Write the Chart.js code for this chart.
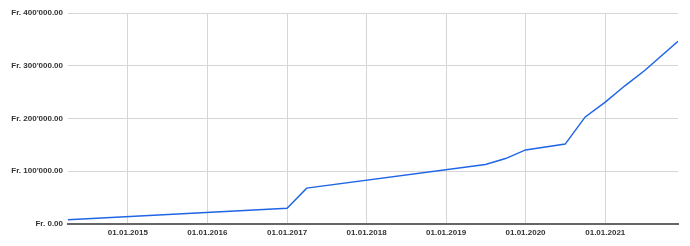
<!DOCTYPE html>
<html>
<head>
<meta charset="utf-8">
<script src="https://cdn.jsdelivr.net/npm/chart.js@4"></script>
<style>
  html, body { margin: 0; padding: 0; background: #fff; }
  #wrap { width: 690px; height: 246px; }
</style>
</head>
<body>
<div id="wrap"><canvas id="chart" width="690" height="246"></canvas></div>
<script>
// values
const dates = ['2014-04-01', '2017-01-01', '2017-04-01', '2019-07-01', '2019-10-01', '2020-01-01',
    '2020-07-01', '2020-10-01', '2021-01-01', '2021-04-01', '2021-07-01', '2021-12-01'];
const values = [8000, 30000, 68000, 113000, 124000, 140500,
    151500, 203000, 231000, 262000, 291000, 346500];
const yearTicks = ['2015-01-01', '2016-01-01', '2017-01-01', '2018-01-01', '2019-01-01', '2020-01-01', '2021-01-01'];
const yTicks = [0, 100000, 200000, 300000, 400000];
const xMin = '2014-04-01';
const xMax = '2021-12-01';

const ts = d => Date.parse(d + 'T00:00:00Z');

function fmtDate(v) {
    const d = new Date(v);
    const dd = String(d.getUTCDate()).padStart(2, '0');
    const mm = String(d.getUTCMonth() + 1).padStart(2, '0');
    return dd + '.' + mm + '.' + d.getUTCFullYear();
}

function fmtFr(v) {
    const s = Math.round(v).toString().replace(/\B(?=(\d{3})+(?!\d))/g, "'");
    return 'Fr. ' + s + '.00';
}

const font = { family: 'Liberation Sans, Arial, sans-serif', size: 8, weight: 'bold' };

new Chart(document.getElementById('chart'), {
    type: 'line',
    data: {
        datasets: [{
            data: dates.map((d, i) => ({ x: ts(d), y: values[i] })),
            borderColor: '#1f66e5',
            borderWidth: 1.5,
            pointRadius: 0,
            tension: 0,
            fill: false
        }]
    },
    options: {
        responsive: false,
        animation: false,
        layout: { padding: { top: 13, right: 12, left: 0, bottom: 0 } },
        plugins: { legend: { display: false }, tooltip: { enabled: false } },
        scales: {
            x: {
                type: 'linear',
                min: ts(xMin),
                max: ts(xMax),
                afterBuildTicks: s => { s.ticks = yearTicks.map(d => ({ value: ts(d) })); },
                afterFit: s => { s.height = 22; },
                ticks: {
                    callback: v => fmtDate(v),
                    color: '#333',
                    font: font,
                    padding: 4,
                    maxRotation: 0,
                    autoSkip: false
                },
                grid: { color: '#d6d6d6', lineWidth: 1, drawTicks: false },
                border: { color: '#666', width: 2 }
            },
            y: {
                min: 0,
                max: 400000,
                afterBuildTicks: s => { s.ticks = yTicks.map(v => ({ value: v })); },
                afterFit: s => { s.width = 68; },
                ticks: {
                    callback: v => fmtFr(v),
                    color: '#333',
                    font: font,
                    padding: 5
                },
                grid: { color: '#d6d6d6', lineWidth: 1, drawTicks: false },
                border: { display: false }
            }
        }
    }
});
</script>
</body>
</html>
